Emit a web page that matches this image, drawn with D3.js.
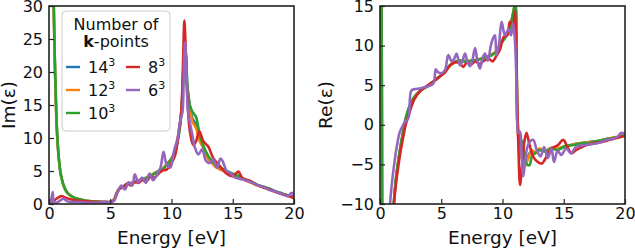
<!DOCTYPE html>
<html>
<head>
<meta charset="utf-8">
<script src="https://cdnjs.cloudflare.com/ajax/libs/d3/7.8.5/d3.min.js"></script>
<style>
  body { margin: 0; background: #fff; }
  svg text { font-family: "DejaVu Sans", sans-serif; fill: #111; }
</style>
</head>
<body>
<div id="chart"></div>
<script>
// legend / series
const kLabels = ["14", "12", "10", "8", "6"];
const colors = ["#1f77b4", "#ff7f0e", "#2ca02c", "#d62728", "#9467bd"];
const xTicks = [0, 5, 10, 15, 20];
const imTicks = [0, 5, 10, 15, 20, 25, 30];
const reTicks = [-10, -5, 0, 5, 10, 15];

// Im(eps): dense k-meshes share one energy grid
const gridIm = [0.3,0.35,0.4,0.5,0.6,0.7,0.8,0.9,1.0,1.2,1.5,2,2.5,3,3.5,4,4.5,5,5.3,5.5,5.7,6,6.3,6.6,7,7.3,7.6,
  8,8.3,8.6,9,9.3,9.6,10,10.3,10.6,10.8,10.95,11.05,11.15,11.3,11.5,11.7,12,12.3,12.6,13,13.3,13.6,14,14.5,15,15.5,16,
  16.5,17,17.5,18,18.5,19,19.5,20];
const im14 = [44.5,35.5,28.5,19.8,13.2,9.4,6.9,5.2,4.1, 2.7,1.7,1.0,0.7,0.5,0.4,0.35,0.3,0.3, 0.6,1.5,2.2,2.6,2.9,3.1,3.3,3.5,3.7,
  4.0,4.3,4.6,5.1,5.3,6.0,6.9,8.1,10.8, 13.8,19.5,24,23,17.5,14.8,13,12,10, 8.7,7.0,6.3,5.8,5.3,4.9,4.5,4.2,3.7,
  3.3,2.9,2.6,2.3,1.9,1.6,1.3,1.0];
const im12 = [44,35,28,19.5,13,9.3,6.9,5.2,4.1, 2.7,1.7,1.0,0.7,0.5,0.4,0.35,0.3,0.3, 0.7,1.6,2.3,2.5,2.9,3.2,3.2,3.6,3.6,
  4.1,4.2,4.7,4.9,5.4,6.0,6.9,8.2,11, 14,20,24,22.5,17,14.5,12.5,11.5,9.5, 8.5,6.8,6.2,5.6,5.2,4.9,4.4,4.3,3.6,
  3.2,2.8,2.6,2.2,1.9,1.5,1.3,1.0];
const im10 = [45,36,29,20,13.5,9.5,7,5.3,4.2, 2.8,1.7,1.0,0.7,0.5,0.4,0.35,0.3,0.3, 0.6,1.4,2.2,2.6,3.0,3.1,3.3,3.5,3.7,
  4.0,4.3,4.6,5.0,5.3,5.9,6.8,8.0,10.5, 13.5,19,23.5,23,18,15,14,13.2,10.5, 8.8,7.3,6.5,6.0,5.5,5.0,4.6,4.2,3.7,
  3.4,2.9,2.6,2.3,1.9,1.6,1.3,1.0];
const gridIm8 = [0,0.3,0.6,1.0,1.3,1.6,2,2.5,3,3.5,4,4.5,5,5.3,5.5,5.8,6.1,6.4,6.7,7,7.3,7.6,8,8.3,8.6,9,9.3,
  9.6,10,10.3,10.6,10.8,10.95,11.05,11.15,11.3,11.5,11.78,12,12.27,12.6,13.0,13.4,13.96,14.5,
  15,15.45,15.8,16.3,17,17.5,18,18.5,19,19.5,20];
const im8 = [0.1,0.3,0.8,1.2,1.0,0.8,0.6,0.5,0.4,0.35,0.3,0.3,0.3,0.5,1.5,2.4,2.6,3.1,2.8,3.4,3.2,3.6,3.5,4.2,4.0,4.7,5.1,
  5.2,6.2,7.4,11,14,22,27.8,24,16,11,8.9,9.5,11,9.5,8.7,7.0,5.7,4.6,
  4.2,4.9,3.9,3.6,2.9,2.5,2.2,1.8,1.5,1.2,0.9];
const gridIm6 = [0.15,0.3,0.4,0.6,0.9,1.2,1.5,2,2.5,3,3.5,4,4.5,5.0,5.3,5.6,5.9,6.2,6.5,6.8,7.0,7.3,7.6,7.9,8.2,8.5,8.8,
  9.1,9.35,9.6,9.9,10.2,10.5,10.7,10.9,11.0,11.1,11.2,11.35,11.5,11.7,11.9,12.2,12.5,12.8,
  13.1,13.4,13.7,14.0,14.2,14.5,14.8,15.2,15.6,16,16.5,17,17.5,18,18.5,19,19.5,19.8,20];
const im6 = [0.1,1.8,0.3,0.2,0.5,0.8,0.4,0.3,0.3,0.2,0.2,0.2,0.3,0.3,0.5,1.8,2.8,2.2,3.3,2.8,4.5,3.3,4.0,3.2,4.6,3.6,4.4,
  5.5,7.9,6.0,5.5,8.0,10,12.5,14,20,24.5,21,14,12.3,10.5,8.6,7.5,8.3,6.6,
  6.2,6.8,5.5,6.9,6.4,5.0,4.7,4.0,3.8,3.6,3.3,2.9,2.6,2.1,1.9,1.5,1.2,1.7,1.2];

// Re(eps)
const gridRe = [0.05,0.1,0.15,0.2,0.3,0.5,0.8,1.0,1.1,1.2,1.35,1.5,1.7,1.9,2.1,2.4,2.8,3.3,3.8,4.3,4.8,5.3,5.7,6.1,6.5,7,7.5,
  8,8.5,9,9.5,10,10.3,10.6,10.8,10.95,11.05,11.15,11.25,11.4,11.6,11.8,12.0,12.2,12.4,
  12.7,13.0,13.5,14,14.5,15,15.5,16,16.5,17,17.5,18,18.5,19,19.5,20];
const re14 = [60,30,5,-25,-40,-30,-18,-13,-10.5, -8.5,-6.2,-4.5,-2.5,-0.8,0.8,2.3,3.5,4.3, 4.8,5.4,6.0,6.7,7.5,7.9,8.1,8.0,8.1,
  8.2,8.5,8.7,9.3,10.6,11.3,12.3,13.6,14.7, 15.2,7.5,-0.5,-1.5,-3.5,-4.8,-4.4,-3.6,-3.3,
  -3.5,-3.1,-3.3,-2.9,-3.1,-2.8,-2.6,-2.4,-2.3, -2.2,-2.1,-2.0,-1.8,-1.7,-1.5,-1.3];
const re12 = [60,30,5,-25,-40,-30,-18,-13,-10.6, -8.6,-6.3,-4.5,-2.6,-0.9,0.8,2.2,3.5,4.3, 4.8,5.4,6.0,6.7,7.4,7.9,8.0,8.1,8.0,
  8.3,8.4,8.8,9.3,10.7,11.4,12.4,13.6,14.6, 15.0,7,-1,-3,-4.5,-5.3,-4.6,-3.8,-3.2,
  -3.6,-3.0,-3.3,-2.9,-3.0,-2.7,-2.6,-2.4,-2.3, -2.2,-2.1,-2.0,-1.8,-1.6,-1.5,-1.3];
const re10 = [60,30,5,-25,-40,-30,-18,-13,-10.5, -8.5,-6.2,-4.5,-2.5,-0.8,0.8,2.3,3.5,4.3, 4.8,5.4,6.0,6.7,7.5,7.9,8.1,8.0,8.1,
  8.2,8.5,8.7,9.2,10.5,11.2,12.2,13.5,14.8, 15.5,8,0,-2.5,-2.0,-4.2,-5.0,-5.1,-4.0,
  -3.5,-3.2,-3.4,-3.0,-3.2,-2.8,-2.6,-2.5,-2.3, -2.3,-2.1,-2.0,-1.8,-1.7,-1.5,-1.3];
const gridRe8 = [0.8,1.0,1.14,1.3,1.5,1.7,1.9,2.1,2.4,2.8,3.3,3.8,4.3,4.8,5.3,5.7,6.1,6.5,6.8,7.1,7.4,7.8,8.1,8.5,8.9,9.2,9.5,
  9.8,10.1,10.4,10.6,10.85,11.0,11.1,11.2,11.3,11.43,11.6,11.8,11.96,12.2,12.5,12.8,13.2,13.6,
  14.0,14.5,14.96,15.3,15.65,16,16.5,17,17.5,18,18.5,19,19.5,20];
const re8 = [-20,-13,-10,-7.5,-5.2,-3.2,-1.5,0,1.5,3.2,4.3,4.9,5.4,6.0,6.6,7.5,7.9,7.8,7.3,7.9,7.6,8.0,7.7,8.1,8.3,8.0,8.7,
  9.5,11.1,11.3,13,12.5,14.4,11,3,-3,-7.6,-5,-2,-1.0,-2.5,-4.0,-4.6,-4.9,-4.0,
  -3.0,-2.6,-1.9,-2.8,-3.6,-3.2,-2.8,-2.5,-2.3,-2.2,-2.0,-1.8,-1.6,-1.4];
const gridRe6 = [0.6,0.82,1.0,1.2,1.4,1.6,1.8,2.0,2.2,2.35,2.55,2.8,3.3,3.8,4.35,4.55,4.7,5.0,5.3,5.58,5.85,6.05,6.25,6.53,6.74,6.94,7.15,
  7.35,7.55,7.76,7.96,8.16,8.37,8.57,8.8,9.06,9.25,9.39,9.5,9.7,9.93,10.2,10.5,10.7,10.85,
  11.0,11.15,11.3,11.43,11.55,11.7,11.85,12.1,12.5,12.8,13.1,13.4,13.7,14.0,14.2,14.5,14.8,15.2,
  15.6,16.0,16.5,17.0,17.5,18.0,18.5,19.0,19.4,19.7,20];
const re6 = [-20,-10,-7,-4.5,-2.5,-1.0,-0.3,0.3,0.6,1.0,4.3,4.5,4.6,4.8,5.2,7.0,6.7,6.5,6.9,8.8,8.0,8.3,9.0,7.5,8.1,9.0,7.9,
  7.4,8.2,9.7,8.0,7.1,8.4,9.0,8.1,10.1,11.0,11.3,8.8,10.0,13.0,11.3,12.1,11.3,12.8,
  11.0,5,-1.0,-0.9,-3.5,-6.5,-4.5,-2.5,-1.9,-3.2,-4.0,-2.8,-4.2,-3.0,-4.7,-3.3,-3.8,-3.0,
  -3.6,-2.8,-2.6,-2.5,-2.4,-2.2,-1.9,-1.8,-1.5,-1.0,-1.2];

const imSeries = [[gridIm, im14], [gridIm, im12], [gridIm, im10], [gridIm8, im8], [gridIm6, im6]];
const reSeries = [[gridRe, re14], [gridRe, re12], [gridRe, re10], [gridRe8, re8], [gridRe6, re6]];

const width = 635, height = 248;
const svg = d3.select("#chart").append("svg")
  .attr("width", width)
  .attr("height", height);

function panel(id, left, right, yDomain, yTicks, series, ylabel, ylabelX) {
  const top = 6, bottom = 204;
  const x = d3.scaleLinear().domain([0, 20]).range([left, right]);
  const y = d3.scaleLinear().domain(yDomain).range([bottom, top]);

  svg.append("clipPath").attr("id", "clip" + id)
    .append("rect")
    .attr("x", left).attr("y", top)
    .attr("width", right - left).attr("height", bottom - top);

  const line = d3.line()
    .x(d => x(d[0]))
    .y(d => y(d[1]))
    .curve(d3.curveCatmullRom.alpha(0.5));

  const g = svg.append("g").attr("clip-path", "url(#clip" + id + ")");
  series.forEach(([xs, ys], i) => {
    g.append("path")
      .datum(xs.map((e, j) => [e, ys[j]]))
      .attr("d", line)
      .attr("fill", "none")
      .attr("stroke", colors[i])
      .attr("stroke-width", 2.6)
      .attr("stroke-linejoin", "round");
  });

  const xAxis = svg.append("g")
    .attr("transform", `translate(0,${bottom})`)
    .call(d3.axisBottom(x).tickValues(xTicks).tickSize(-5).tickPadding(4));
  const yAxis = svg.append("g")
    .attr("transform", `translate(${left},0)`)
    .call(d3.axisLeft(y).tickValues(yTicks).tickSize(-5).tickPadding(6));
  [xAxis, yAxis].forEach(a => {
    a.select(".domain").remove();
    a.selectAll("line").attr("stroke", "#222").attr("stroke-width", 1.2);
    a.selectAll("text").style("font-size", "16px").attr("fill", "#111");
  });

  svg.append("rect")
    .attr("x", left).attr("y", top)
    .attr("width", right - left).attr("height", bottom - top)
    .attr("fill", "none")
    .attr("stroke", "#222")
    .attr("stroke-width", 1.6);

  svg.append("text")
    .attr("x", (left + right) / 2).attr("y", 243.5)
    .attr("text-anchor", "middle")
    .style("font-size", "18.5px")
    .text("Energy [eV]");

  svg.append("text")
    .attr("transform", `translate(${ylabelX},${(top + bottom) / 2}) rotate(-90)`)
    .attr("text-anchor", "middle")
    .style("font-size", "18.5px")
    .text(ylabel);
}

panel("im", 49, 294, [0, 30], imTicks, imSeries, "Im(ε)", 14.5);
panel("re", 380, 625, [-10, 15], reTicks, reSeries, "Re(ε)", 332);

// legend
const lg = svg.append("g");
lg.append("rect")
  .attr("x", 62).attr("y", 11).attr("width", 108).attr("height", 120)
  .attr("rx", 4)
  .attr("fill", "#fff").attr("fill-opacity", 0.8)
  .attr("stroke", "#ccc").attr("stroke-width", 1);
lg.append("text").attr("x", 116).attr("y", 29.5).attr("text-anchor", "middle")
  .style("font-size", "16px").text("Number of");
const t2 = lg.append("text").attr("x", 116).attr("y", 47).attr("text-anchor", "middle")
  .style("font-size", "16px");
t2.append("tspan").style("font-weight", "bold").text("k");
t2.append("tspan").text("-points");

kLabels.forEach((k, i) => {
  const col = i < 3 ? 0 : 1;
  const row = i < 3 ? i : i - 3;
  const hx = col === 0 ? 66 : 126;
  const cy = 67 + row * 23;
  lg.append("line")
    .attr("x1", hx).attr("x2", hx + 14)
    .attr("y1", cy).attr("y2", cy)
    .attr("stroke", colors[i]).attr("stroke-width", 2.4);
  const t = lg.append("text").attr("x", hx + 22).attr("y", cy + 5.8)
    .style("font-size", "16px");
  t.append("tspan").text(k);
  t.append("tspan").attr("dy", -7).style("font-size", "11px").text("3");
});
</script>
</body>
</html>
